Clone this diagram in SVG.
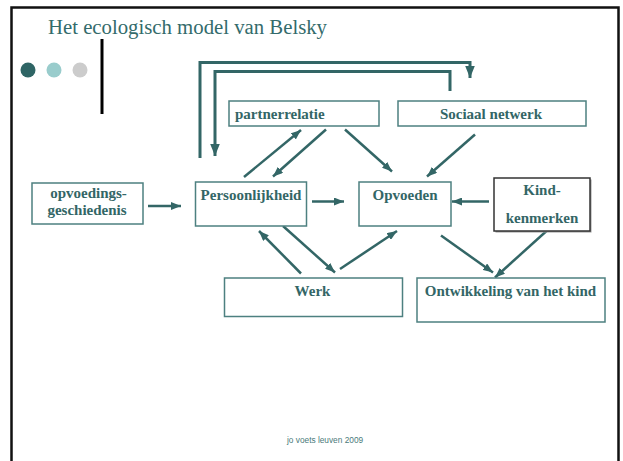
<svg xmlns="http://www.w3.org/2000/svg" width="623" height="461" viewBox="0 0 623 461">
<defs>
<marker id="ah" viewBox="0 0 10 8" refX="10" refY="4" markerWidth="4" markerHeight="3.2" orient="auto" markerUnits="strokeWidth">
<path d="M0,0 L10,4 L0,8 z" fill="#336666"/>
</marker>
<style>
.box{fill:#fff;stroke:#4d8080;stroke-width:1.5}
.lbl{font-family:"Liberation Serif","Times New Roman",serif;font-weight:bold;font-size:15px;fill:#336666}
.c{text-anchor:middle}
.ar{fill:none;stroke:#336666;stroke-width:2.5;marker-end:url(#ah)}
.fr{fill:none;stroke:#336666;stroke-width:3}
</style>
</defs>
<rect width="623" height="461" fill="#fff"/>
<rect x="11.5" y="7.5" width="607" height="470" fill="none" stroke="#111" stroke-width="2.5"/>
<text x="48" y="34" font-family="Liberation Serif, serif" font-size="20.5" fill="#336b6b" textLength="279" lengthAdjust="spacingAndGlyphs">Het ecologisch model van Belsky</text>
<circle cx="28" cy="70" r="7.5" fill="#2f6565"/>
<circle cx="54" cy="70" r="7.5" fill="#99cccc"/>
<circle cx="80" cy="70" r="7.5" fill="#cccccc"/>
<line x1="102" y1="39" x2="102" y2="114" stroke="#000" stroke-width="3"/>

<g id="connectors">
<polyline class="fr" points="200,158 200,62.5 470,62.5 470,78" marker-end="url(#ah)"/>
<polyline class="fr" points="450,91 450,71.5 215,71.5 215,156" marker-end="url(#ah)"/>
<line class="ar" x1="148" y1="206" x2="181" y2="206"/>
<line class="ar" x1="312" y1="201.5" x2="344" y2="201.5"/>
<line class="ar" x1="489" y1="201.5" x2="452" y2="201.5"/>
<line class="ar" x1="244" y1="177" x2="301" y2="130"/>
<line class="ar" x1="326" y1="129.5" x2="273" y2="176.5"/>
<line class="ar" x1="345" y1="129.5" x2="392" y2="171.5"/>
<line class="ar" x1="475" y1="134.5" x2="427" y2="176.5"/>
<line class="ar" x1="301" y1="273.5" x2="259" y2="231"/>
<line class="ar" x1="283" y1="226" x2="335" y2="272.5"/>
<line class="ar" x1="340" y1="269" x2="397" y2="231"/>
<line class="ar" x1="441" y1="235.5" x2="493" y2="272.5"/>
<line class="ar" x1="546.5" y1="231" x2="495" y2="277.5"/>
</g>

<g id="partnerrelatie">
<rect class="box" x="229" y="101" width="150" height="25"/>
<text class="lbl" x="235" y="119">partnerrelatie</text>
</g>
<g id="sociaal-netwerk">
<rect class="box" x="398" y="101" width="188" height="25"/>
<text class="lbl c" x="491" y="118.5">Sociaal netwerk</text>
</g>
<g id="opvoedingsgeschiedenis">
<rect class="box" x="32" y="183" width="111" height="41"/>
<text class="lbl c" x="88.5" y="198">opvoedings-</text>
<text class="lbl c" x="87" y="215">geschiedenis</text>
</g>
<g id="persoonlijkheid">
<rect class="box" x="195.5" y="182" width="111" height="44"/>
<text class="lbl c" x="251" y="200">Persoonlijkheid</text>
</g>
<g id="opvoeden">
<rect class="box" x="359" y="182" width="92" height="44"/>
<text class="lbl c" x="405" y="200">Opvoeden</text>
</g>
<g id="kindkenmerken">
<rect x="495.5" y="179.5" width="96" height="53" fill="#999"/>
<rect x="494" y="178" width="96" height="53" fill="#fff" stroke="#333" stroke-width="1.5"/>
<text class="lbl c" x="542" y="195">Kind-</text>
<text class="lbl c" x="542" y="222.5">kenmerken</text>
</g>
<g id="werk">
<rect class="box" x="224.5" y="278" width="178" height="38.5"/>
<text class="lbl c" x="312.5" y="296">Werk</text>
</g>
<g id="ontwikkeling">
<rect class="box" x="417" y="278" width="188" height="44"/>
<text class="lbl c" x="510.5" y="296">Ontwikkeling van het kind</text>
</g>
<text x="287" y="443" font-family="Liberation Sans, Arial, sans-serif" font-size="8.3" fill="#4a7a7a">jo voets leuven 2009</text>
</svg>
